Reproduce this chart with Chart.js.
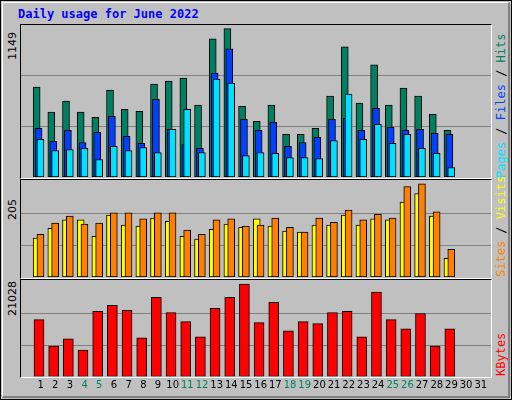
<!DOCTYPE html>
<html><head><meta charset="utf-8">
<script src="https://cdn.jsdelivr.net/npm/chart.js@4"></script>
<style>
body{margin:0;width:512px;height:400px;overflow:hidden;background:#fff}
#f{position:absolute;left:0;top:0;width:510px;height:398px;background:#c0c0c0;border:1px solid #000}
#f2{position:absolute;left:1px;top:1px;width:505px;height:393px;border-top:1px solid #fff;border-left:1px solid #fff;border-right:2px solid #808080;border-bottom:2px solid #808080}
.p{position:absolute;left:20px;width:470px;border-top:1px solid #000;border-left:1px solid #000;border-bottom:1px solid #fff;border-right:1px solid #fff}
.c{position:absolute;left:21px;width:470px}
.t{position:absolute;font-family:"DejaVu Sans Mono",monospace;font-weight:bold;font-size:12px;color:#0000ff}
.r{position:absolute;font-family:"DejaVu Sans Mono",monospace;font-size:12px;transform-origin:0 0;transform:rotate(-90deg);white-space:nowrap}
</style></head><body>
<div id="f"><div id="f2"></div></div>
<div class="t" style="left:18px;top:7px">Daily usage for June 2022</div>
<div class="p" style="top:24px;height:153px"></div>
<div class="p" style="top:179px;height:98px"></div>
<div class="p" style="top:279px;height:97px"></div>
<div class="r" style="left:6px;top:60px;color:#000;font-family:'DejaVu Sans';font-size:11px">1149</div>
<div class="r" style="left:6px;top:220px;color:#000;font-family:'DejaVu Sans';font-size:11px">205</div>
<div class="r" style="left:6px;top:316px;color:#000;font-family:'DejaVu Sans';font-size:11px">21028</div>
<div class="r" style="left:494px;top:178px"><span style="color:#00e0ff">Pages</span> / <span style="color:#0040ff">Files</span> / <span style="color:#008060">Hits</span></div>
<div class="r" style="left:494px;top:277px"><span style="color:#ff8000">Sites</span> / <span style="color:#ffff00">Visits</span></div>
<div class="r" style="left:494px;top:376px;color:#ff0000">KBytes</div>
<div class="c" style="top:25px;height:152px"><canvas id="c1"></canvas></div>
<div class="c" style="top:181px;height:96px"><canvas id="c2"></canvas></div>
<div class="c" style="top:282px;height:116px"><canvas id="c3"></canvas></div>
<script>
const days=[1,2,3,4,5,6,7,8,9,10,11,12,13,14,15,16,17,18,19,20,21,22,23,24,25,26,27,28,29];
const dayLabels=['1','2','3','4','5','6','7','8','9','10','11','12','13','14','15','16','17','18','19','20','21','22','23','24','25','26','27','28','29','30','31'];
const weekendDays=[4,5,11,12,18,19,25,26];
const hits=[680,490,573,490,451,657,512,497,702,725,748,543,1045,1121,535,421,543,322,322,368,611,984,558,847,543,672,611,474,353];
const files=[368,269,353,261,337,459,307,254,588,360,246,216,786,969,436,353,413,231,261,299,436,444,353,520,375,353,360,330,322];
const pages=[284,200,208,216,132,231,200,223,185,360,512,185,741,710,162,185,178,147,147,139,276,626,284,398,254,322,216,178,71];
const sites=[83,104,122,122,87,132,111,109,126,119,87,81,102,113,106,124,109,98,96,111,111,132,111,124,122,160,178,130,40];
const visits=[91,115,130,113,115,137,137,124,137,137,100,91,122,124,109,111,126,106,96,126,117,143,122,134,126,193,199,139,59];
const kbytes=[12667,6786,8369,5881,14477,15834,14703,8596,17644,14251,12215,8822,15155,17644,20584,11989,16513,10179,12215,11762,14251,14477,8822,18775,12667,10631,14025,6786,10631];
const maxHits=1149, maxSites=205, maxKB=21028;

const pts=(arr,dx)=>arr.map((v,i)=>({x:days[i]+dx,y:v}));
const ds=(label,arr,dx,color,w,order)=>({label,data:pts(arr,dx),order,backgroundColor:color,borderColor:'#000',borderWidth:1,borderSkipped:false,barThickness:w,grouped:false});
function mk(id,datasets,max,showX){
  return new Chart(document.getElementById(id),{type:'bar',data:{datasets},
    options:{responsive:true,maintainAspectRatio:false,animation:false,
      layout:{padding:0},
      plugins:{legend:{display:false},tooltip:{enabled:false}},
      scales:{
        x:{type:'linear',min:0.5,max:31.5,display:showX,grid:{display:false,drawTicks:false},border:{display:false},
          afterBuildTicks:s=>{s.ticks=dayLabels.map((l,i)=>({value:i+1}));},
          afterFit:s=>{if(showX)s.height=21.5;},
          ticks:{autoSkip:false,maxRotation:0,padding:3,labelOffset:4.7,
            font:{family:'DejaVu Sans',size:10},
            color:c=>weekendDays.includes(c.tick.value)?'#008060':'#000',
            callback:(v)=>dayLabels[v-1]}},
        y:{min:0,max,grid:{color:'#808080',drawTicks:false,lineWidth:1},border:{display:false},
          ticks:{display:false},
          afterBuildTicks:s=>{s.ticks=[{value:max/3},{value:2*max/3}];},
          afterFit:s=>{s.width=0;}}
      }}});
}
mk('c1',[ds('Hits',hits,0.05,'#008060',7,3),ds('Files',files,0.18,'#0040ff',7,2),ds('Pages',pages,0.31,'#00e0ff',7,1)],maxHits,false);
mk('c2',[ds('Sites',sites,0.05,'#ffff00',7,2),ds('Visits',visits,0.31,'#ff8000',7,1)],maxSites,false);
mk('c3',[ds('KBytes',kbytes,0.21,'#ff0000',10,1)],maxKB,true);
</script></body></html>
